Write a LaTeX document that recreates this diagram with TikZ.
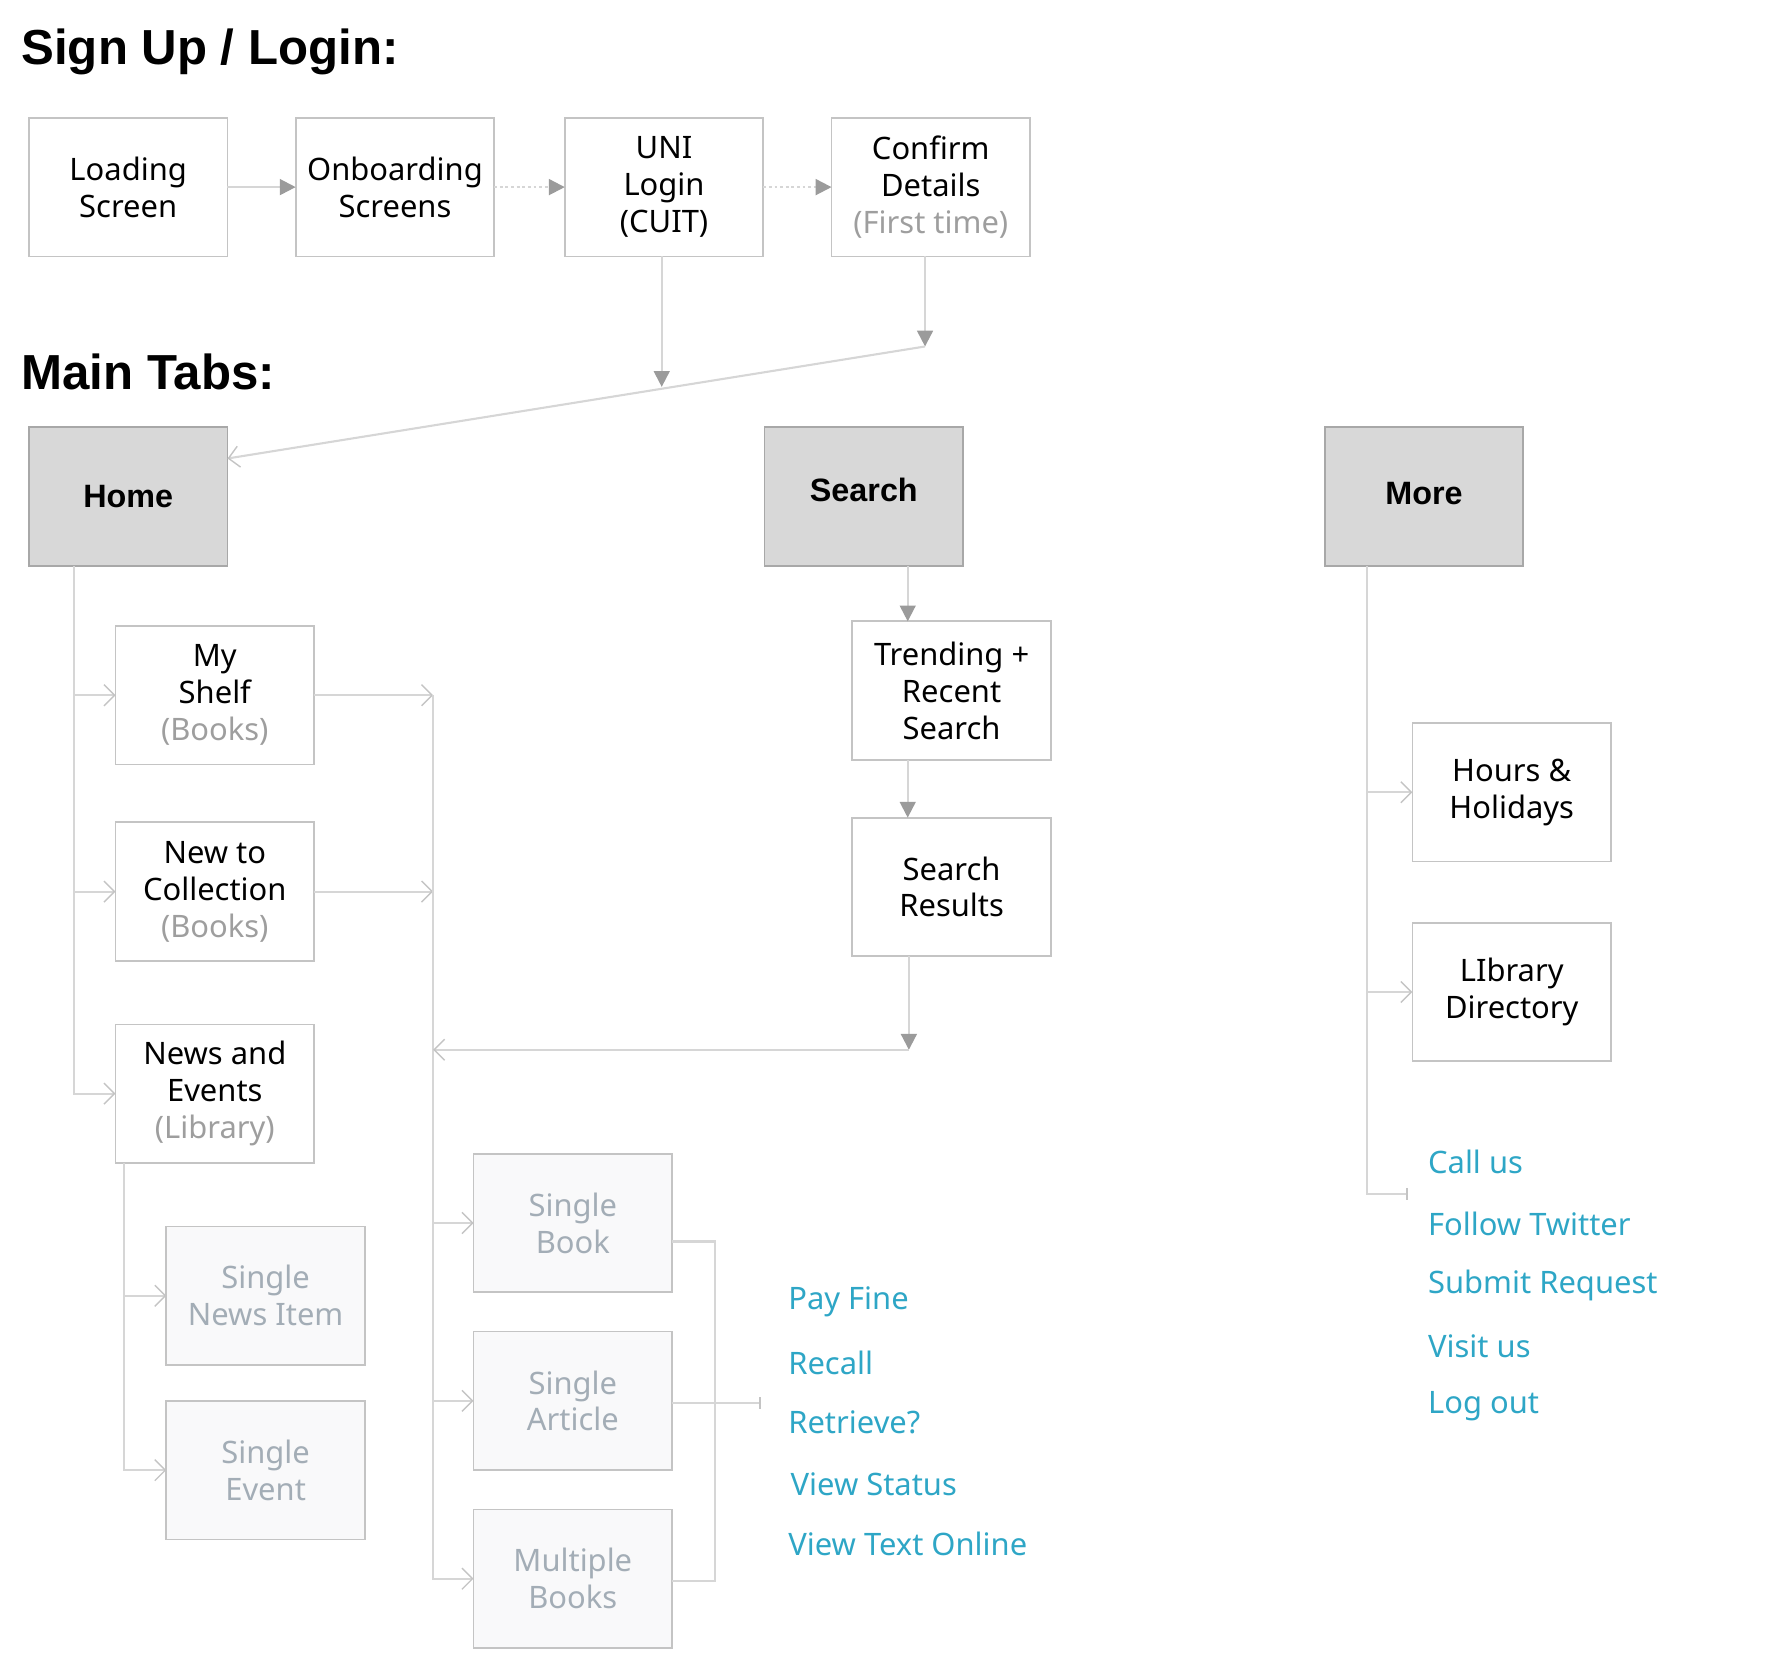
\documentclass[tikz,border=0pt]{standalone}
\usepackage{fontspec}
\setmainfont{Noto Sans}
\newfontfamily\headfont{Liberation Sans}
\usetikzlibrary{arrows.meta}

\definecolor{boxgray}{HTML}{C4C4C4}
\definecolor{tabfill}{HTML}{D8D8D8}
\definecolor{tabedge}{HTML}{A8A8A8}
\definecolor{fadefill}{HTML}{F9F9FA}
\definecolor{fadetext}{HTML}{A3ADB6}
\definecolor{subgray}{HTML}{9E9E9E}
\definecolor{linkblue}{HTML}{2EA6C6}
\definecolor{linegray}{HTML}{D6D6D6}
\definecolor{arrowgray}{HTML}{9B9B9B}

\newcommand{\boxfont}{\fontsize{8.8}{10.5}\selectfont}
\newcommand{\tabfont}{\headfont\bfseries\fontsize{9.2}{11}\selectfont}
\newcommand{\titlefont}{\headfont\bfseries\fontsize{14}{16}\selectfont}
\newcommand{\subnote}[1]{\textcolor{subgray}{#1}}

\tikzset{
  screen/.style={draw=boxgray, line width=0.5pt, minimum width=1.986cm,
    minimum height=1.386cm, inner sep=0pt, outer sep=0pt, align=center, font=\boxfont},
  tabbox/.style={screen, fill=tabfill, draw=tabedge, font=\tabfont},
  fadedbox/.style={screen, fill=fadefill, text=fadetext},
  linktext/.style={anchor=west, inner sep=0pt, text=linkblue, font=\boxfont},
  heading/.style={anchor=west, inner sep=0pt, font=\titlefont},
  wire/.style={draw=linegray, line width=0.6pt},
  flow/.style={wire, -{Triangle[length=4.5pt,width=4.5pt,color=arrowgray]}},
  branch/.style={wire, -{Straight Barb[length=3pt,width=6pt,color=boxgray,line width=0.4pt]}},
  tick/.style={wire, -{Bar[width=3.5pt,color=boxgray]}}
}

\begin{document}
\begin{tikzpicture}[x=0.011548cm, y=-0.011548cm]
  \useasboundingbox (0,0) rectangle (1550,1441);

  % Sign up / login
  \node[heading] (signup) at (18,45) {Sign Up / Login:};
  \node[screen] (load) at (111,162) {Loading\\Screen};
  \node[screen] (onb) at (342,162) {Onboarding\\Screens};
  \node[screen] (uni) at (575,162) {UNI\\Login\\(CUIT)};
  \node[screen] (confirm) at (806,162) {Confirm\\Details\\\subnote{(First time)}};

  \draw[flow] (load) -- (onb);
  \draw[flow, dash pattern=on 0.8pt off 0.8pt] (onb) -- (uni);
  \draw[flow, dash pattern=on 0.8pt off 0.8pt] (uni) -- (confirm);

  % Main tabs
  \node[heading] (maintabs) at (18,322) {Main Tabs:};
  \node[tabbox] (home) at (111,430) {Home};
  \node[tabbox] (search) at (748,430) {\raisebox{4pt}{Search}};
  \node[tabbox] (more) at (1233,430) {\raisebox{2pt}{More}};

  % Login into Home
  \coordinate (unidrop) at (573,335);
  \coordinate (cfdrop) at (801,300);
  \coordinate (homein) at (197,397);
  \draw[flow] (uni.south -| unidrop) -- (unidrop);
  \draw[flow] (confirm.south -| cfdrop) -- (cfdrop);
  \draw[branch] (cfdrop) -- (homein);

  % Home branch
  \node[screen] (shelf) at (186,602) {My\\Shelf\\\subnote{(Books)}};
  \node[screen] (newcol) at (186,772) {New to\\Collection\\\subnote{(Books)}};
  \node[screen] (news) at (186,947) {News and\\Events\\\subnote{(Library)}};
  \node[fadedbox] (snews) at (230,1122) {Single\\News Item};
  \node[fadedbox] (sevent) at (230,1273) {Single\\Event};

  \coordinate (homespine) at (64,490);
  \foreach \n in {shelf,newcol,news}
    \draw[branch] (homespine) |- (\n.west);
  \coordinate (newsspine) at (107,1007);
  \foreach \n in {snews,sevent}
    \draw[branch] (newsspine) |- (\n.west);

  % Books and articles
  \node[fadedbox] (sbook) at (496,1059) {Single\\Book};
  \node[fadedbox] (sarticle) at (496,1213) {Single\\Article};
  \node[fadedbox] (mbooks) at (496,1367) {Multiple\\Books};

  \coordinate (bookspine) at (375,602);
  \draw[branch] (shelf.east) -- (shelf.east -| bookspine);
  \draw[branch] (newcol.east) -- (newcol.east -| bookspine);
  \foreach \n in {sbook,sarticle,mbooks}
    \draw[branch] (bookspine) |- (\n.west);

  \draw[wire] (sbook.east |- 0,1075) -- (619,1075) |- (mbooks.east |- 0,1369);
  \draw[tick] (sarticle.east |- 0,1215) -- (659,1215);

  % Item actions
  \node[linktext] (payfine) at (682,1127) {Pay Fine};
  \node[linktext] (recall) at (682,1180) {Recall};
  \node[linktext] (retrieve) at (682,1232) {Retrieve?};
  \node[linktext] (status) at (684,1285) {View Status};
  \node[linktext] (online) at (682,1337) {View Text Online};

  % Search branch
  \node[screen] (trend) at (824,598) {Trending +\\Recent\\Search};
  \node[screen] (results) at (824,768) {Search\\Results};

  \coordinate (colx) at (786,0);
  \coordinate (merge) at (787,909);
  \draw[flow] (colx |- search.south) -- (colx |- trend.north);
  \draw[flow] (colx |- trend.south) -- (colx |- results.north);
  \draw[flow] (merge |- results.south) -- (merge);
  \draw[branch] (merge) -- (merge -| bookspine);

  % More branch
  \node[screen] (hours) at (1309,686) {Hours \&\\Holidays};
  \node[screen] (libdir) at (1309,859) {LIbrary\\Directory};

  \coordinate (morespine) at (1184,490);
  \foreach \n in {hours,libdir}
    \draw[branch] (morespine) |- (\n.west);
  \coordinate (moreend) at (1219,1034);
  \draw[tick] (morespine) |- (moreend);

  \node[linktext] (callus) at (1236,1006) {Call us};
  \node[linktext] (twitter) at (1236,1060) {Follow Twitter};
  \node[linktext] (request) at (1236,1113) {Submit Request};
  \node[linktext] (visit) at (1236,1166) {Visit us};
  \node[linktext] (logout) at (1236,1218) {Log out};

\end{tikzpicture}
\end{document}
